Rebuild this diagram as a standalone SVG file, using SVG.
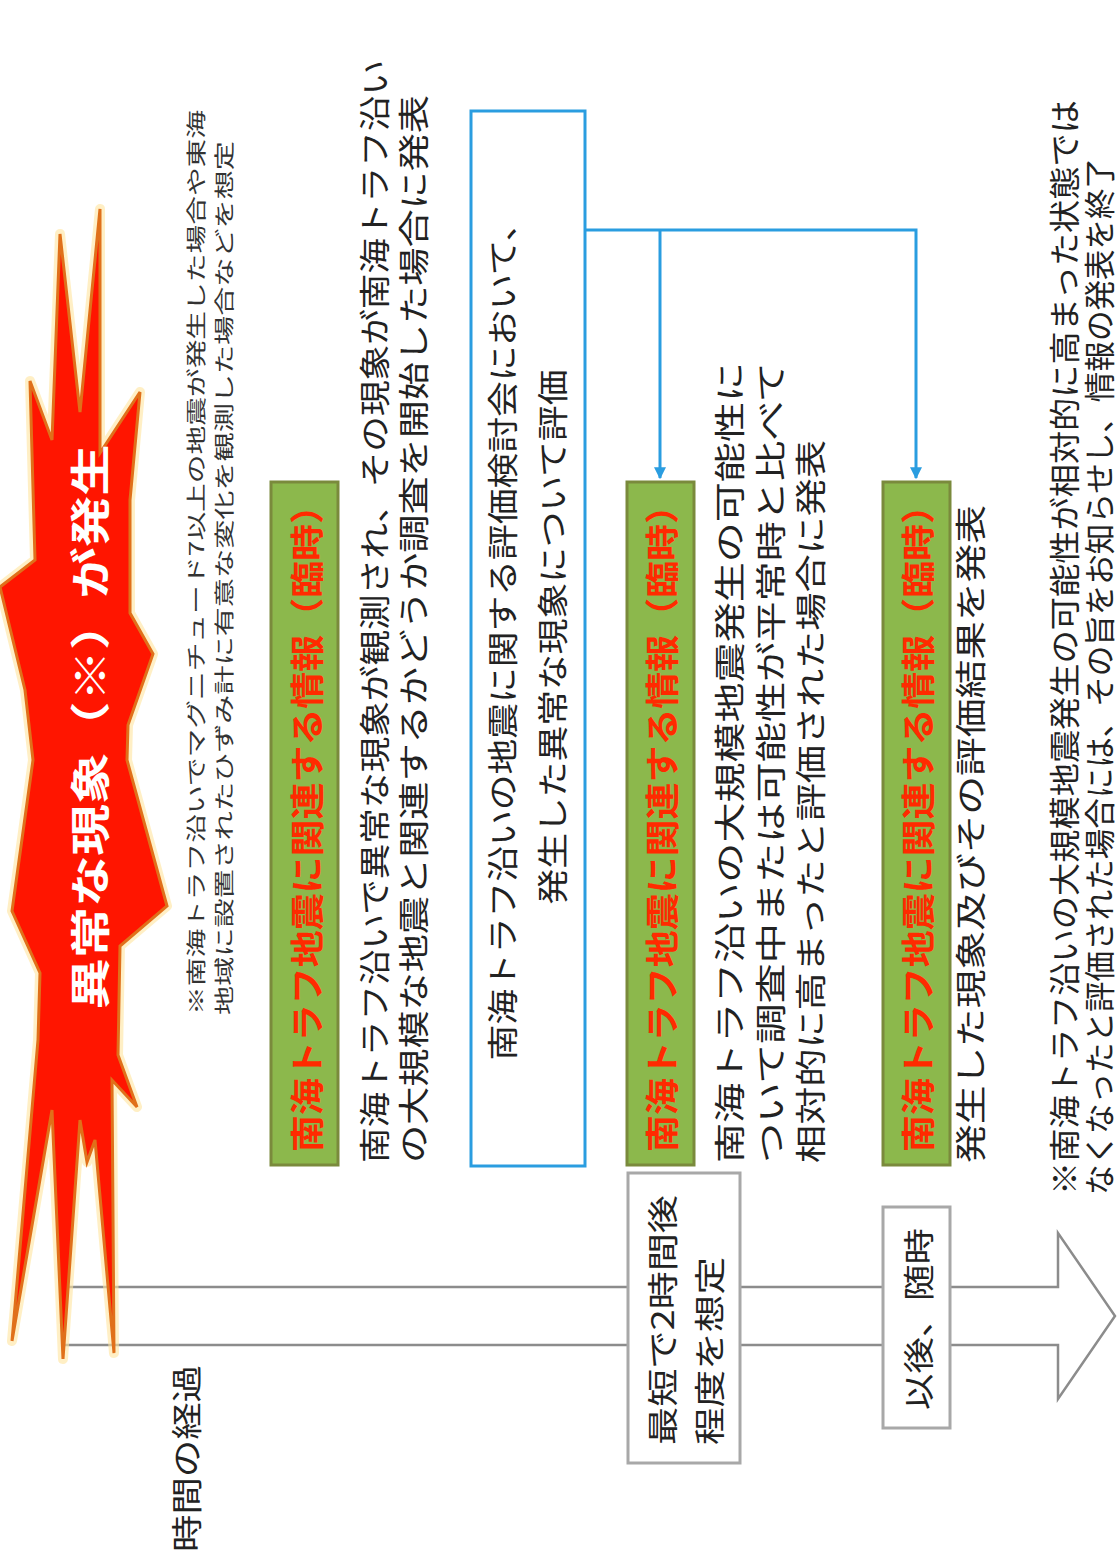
<svg xmlns="http://www.w3.org/2000/svg" width="1120" height="1562" viewBox="0 0 1120 1562">
<style>
text{font-family:"Noto Sans CJK JP","Liberation Sans",sans-serif;dominant-baseline:central}
.body{fill:#222;font-size:31px}
.note{fill:#333;font-size:20px}
.tag{fill:#ff2a00;font-size:34px;font-weight:bold}
.tagbox{fill:#8cb84c;stroke:#7a8a3c;stroke-width:3}
.gbox{fill:#fff;stroke:#a8a8a8;stroke-width:3}
.conn{fill:none;stroke:#2a9de0;stroke-width:3}
</style>
<defs>
<marker id="ah" viewBox="0 0 10 10" refX="9" refY="5" markerWidth="4" markerHeight="4" orient="auto"><path d="M0,0 L10,5 L0,10 z" fill="#2a9de0"/></marker>
<polygon id="burstshape" points="100,209 100,453 140,392 130,500 130,613 153,654 128,725 127,760 167,906 120,946 118,1055 137,1107 112,1080 114,1353 95,1140 87,1162 80,1120 63,1359 52,1110 12,1341 38,1040 40,973 12,911 33,760 25,690 0,587 35,560 30,381 52,440 60,234 80,412"/>
</defs>
<rect width="1120" height="1562" fill="#fff"/>

<g id="timeline">
<path d="M68,1287 H1058 V1233 L1115,1316 L1058,1399 V1345 H62" fill="#fff" stroke="#8c8c8c" stroke-width="2.5"/>
</g>

<g id="burst">
<use href="#burstshape" fill="#ffcf70" stroke="#ffe6a0" stroke-width="10" stroke-linejoin="round" opacity="0.6"/>
<use href="#burstshape" fill="#ff1500" stroke="#e0701a" stroke-width="3" stroke-linejoin="miter"/>
<text transform="translate(88,727) rotate(-90)" text-anchor="middle" fill="#fff" font-size="40" font-weight="bold" textLength="565" lengthAdjust="spacingAndGlyphs">異常な現象（※）が発生</text>
</g>

<g id="note-top">
<text class="note" transform="translate(195,1015) rotate(-90)" textLength="905" lengthAdjust="spacingAndGlyphs">※南海トラフ沿いでマグニチュード7以上の地震が発生した場合や東海</text>
<text class="note" transform="translate(223,1015) rotate(-90)" textLength="874" lengthAdjust="spacingAndGlyphs">地域に設置されたひずみ計に有意な変化を観測した場合などを想定</text>
</g>

<g id="info1">
<rect class="tagbox" x="271" y="482" width="67" height="683"/>
<text class="tag" transform="translate(305,1152) rotate(-90)" textLength="665" lengthAdjust="spacingAndGlyphs">南海トラフ地震に関連する情報（臨時）</text>
</g>
<g id="desc1">
<text class="body" transform="translate(372,1163) rotate(-90)" textLength="1103" lengthAdjust="spacingAndGlyphs">南海トラフ沿いで異常な現象が観測され、その現象が南海トラフ沿い</text>
<text class="body" transform="translate(411,1163) rotate(-90)" textLength="1068" lengthAdjust="spacingAndGlyphs">の大規模な地震と関連するかどうか調査を開始した場合に発表</text>
</g>

<g id="eval">
<rect x="471" y="111" width="114" height="1055" fill="#fff" stroke="#2a9de0" stroke-width="3"/>
<text class="body" transform="translate(500,633) rotate(-90)" text-anchor="middle" textLength="855" lengthAdjust="spacingAndGlyphs">南海トラフ沿いの地震に関する評価検討会において、</text>
<text class="body" transform="translate(550,637) rotate(-90)" text-anchor="middle" textLength="535" lengthAdjust="spacingAndGlyphs">発生した異常な現象について評価</text>
</g>

<g id="connectors">
<path class="conn" d="M586,230 H916 V478" marker-end="url(#ah)"/>
<path class="conn" d="M660,230 V478" marker-end="url(#ah)"/>
</g>

<g id="info2">
<rect class="tagbox" x="627" y="482" width="67" height="683"/>
<text class="tag" transform="translate(660,1152) rotate(-90)" textLength="665" lengthAdjust="spacingAndGlyphs">南海トラフ地震に関連する情報（臨時）</text>
</g>
<g id="desc2">
<text class="body" transform="translate(727,1163) rotate(-90)" textLength="801" lengthAdjust="spacingAndGlyphs">南海トラフ沿いの大規模地震発生の可能性に</text>
<text class="body" transform="translate(768,1163) rotate(-90)" textLength="801" lengthAdjust="spacingAndGlyphs">ついて調査中または可能性が平常時と比べて</text>
<text class="body" transform="translate(808,1163) rotate(-90)" textLength="723" lengthAdjust="spacingAndGlyphs">相対的に高まったと評価された場合に発表</text>
</g>

<g id="info3">
<rect class="tagbox" x="883" y="482" width="67" height="683"/>
<text class="tag" transform="translate(916,1152) rotate(-90)" textLength="665" lengthAdjust="spacingAndGlyphs">南海トラフ地震に関連する情報（臨時）</text>
</g>
<g id="desc3">
<text class="body" transform="translate(968,1163) rotate(-90)" textLength="658" lengthAdjust="spacingAndGlyphs">発生した現象及びその評価結果を発表</text>
</g>

<g id="note-bottom">
<text class="body" font-size="28" transform="translate(1062,1195) rotate(-90)" textLength="1095" lengthAdjust="spacingAndGlyphs">※南海トラフ沿いの大規模地震発生の可能性が相対的に高まった状態では</text>
<text class="body" font-size="28" transform="translate(1097,1195) rotate(-90)" textLength="1037" lengthAdjust="spacingAndGlyphs">なくなったと評価された場合には、その旨をお知らせし、情報の発表を終了</text>
</g>

<g id="time-label">
<text class="body" transform="translate(184,1552) rotate(-90)" textLength="187" lengthAdjust="spacingAndGlyphs">時間の経過</text>
</g>

<g id="t-first">
<rect class="gbox" x="628" y="1173" width="112" height="290"/>
<text class="body" font-size="34" transform="translate(660,1445) rotate(-90)" textLength="250" lengthAdjust="spacingAndGlyphs">最短で2時間後</text>
<text class="body" font-size="34" transform="translate(707,1445) rotate(-90)" textLength="188" lengthAdjust="spacingAndGlyphs">程度を想定</text>
</g>

<g id="t-later">
<rect class="gbox" x="883" y="1207" width="67" height="221" stroke-width="2"/>
<text class="body" font-size="32" transform="translate(916,1410) rotate(-90)" textLength="182" lengthAdjust="spacingAndGlyphs">以後、随時</text>
</g>
</svg>
